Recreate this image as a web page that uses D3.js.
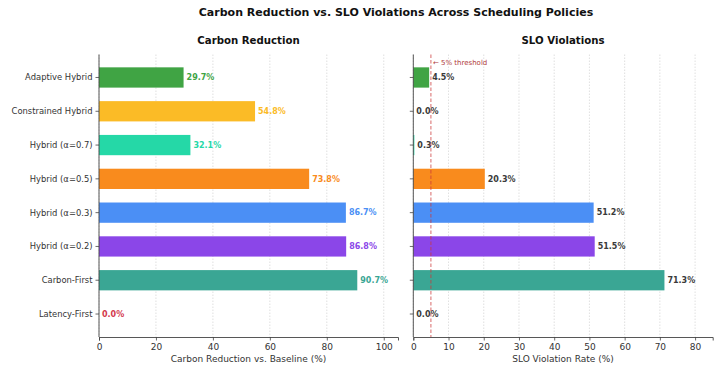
<!DOCTYPE html>
<html>
<head>
<meta charset="utf-8">
<script src="https://cdn.jsdelivr.net/npm/d3@7/dist/d3.min.js"></script>
<style>
  html, body { margin: 0; padding: 0; background: #fff; }
  svg { display: block; font-family: "DejaVu Sans", sans-serif; }
</style>
</head>
<body>
<svg id="chart" width="724" height="371"></svg>
<script>
// Scheduling policies, top to bottom
const policies = [
  "Adaptive Hybrid", "Constrained Hybrid", "Hybrid (α=0.7)", "Hybrid (α=0.5)",
  "Hybrid (α=0.3)", "Hybrid (α=0.2)", "Carbon-First", "Latency-First"
];
const carbonReduction = [29.7, 54.8, 32.1, 73.8, 86.7, 86.8, 90.7, 0.0];
const sloViolations   = [4.5, 0.0, 0.3, 20.3, 51.2, 51.5, 71.3, 0.0];
const policyColors = [
  "#40a444", "#fbbb26", "#25d8a7", "#f98b1d",
  "#4b8ff5", "#8b46e8", "#3aa694", "#d3394d"
];
const carbonTicks = [0, 20, 40, 60, 80, 100];
const sloTicks = [0, 10, 20, 30, 40, 50, 60, 70, 80];
const sloThreshold = 5;

const svg = d3.select("#chart");

svg.append("text")
  .attr("x", 396).attr("y", 16)
  .attr("text-anchor", "middle")
  .attr("font-size", 11).attr("font-weight", "bold").attr("fill", "#111")
  .text("Carbon Reduction vs. SLO Violations Across Scheduling Policies");

const plotTop = 54.5, plotBottom = 337;

// y positions: bars of height 0.6, with matplotlib-like margins
const yIndex = d3.scaleLinear().domain([-0.68, policies.length - 1 + 0.68]).range([plotTop, plotBottom]);
const barH = yIndex(0.3) - yIndex(-0.3);

function panel(opts) {
  const g = svg.append("g");
  const x = d3.scaleLinear().domain(opts.domain).range([opts.x0, opts.x1]);

  // dotted vertical grid
  g.selectAll("line.grid").data(opts.ticks).join("line")
    .attr("class", "grid")
    .attr("x1", d => x(d)).attr("x2", d => x(d))
    .attr("y1", plotTop).attr("y2", plotBottom)
    .attr("stroke", "#d8d8d8").attr("stroke-width", 0.8)
    .attr("stroke-dasharray", "1.5,1.5");

  // bars
  g.selectAll("rect.bar").data(opts.values).join("rect")
    .attr("class", "bar")
    .attr("x", x(0))
    .attr("y", (d, i) => yIndex(i) - barH / 2)
    .attr("width", d => x(d) - x(0))
    .attr("height", barH)
    .attr("fill", (d, i) => policyColors[i]);

  // value labels
  g.selectAll("text.val").data(opts.values).join("text")
    .attr("class", "val")
    .attr("x", d => x(d) + 3)
    .attr("y", (d, i) => yIndex(i))
    .attr("dy", "0.35em")
    .attr("font-size", 8).attr("font-weight", "bold")
    .attr("fill", (d, i) => opts.labelColor ? opts.labelColor : policyColors[i])
    .text(d => d.toFixed(1) + "%");

  // x axis
  const xAxis = g.append("g")
    .attr("transform", `translate(0,${plotBottom})`)
    .call(d3.axisBottom(x).tickValues(opts.ticks).tickSize(3.5).tickPadding(3).tickFormat(d3.format("d")));
  xAxis.select(".domain").attr("stroke", "#444").attr("stroke-width", 0.9);
  xAxis.selectAll(".tick line").attr("stroke", "#444").attr("stroke-width", 0.8);
  xAxis.selectAll(".tick text").attr("font-size", 9).attr("fill", "#333")
    .attr("font-family", "DejaVu Sans, sans-serif");

  // y axis
  const yAxis = g.append("g")
    .attr("transform", `translate(${opts.x0},0)`);
  yAxis.append("line")
    .attr("x1", 0).attr("x2", 0).attr("y1", plotTop).attr("y2", plotBottom)
    .attr("stroke", "#444").attr("stroke-width", 0.9);
  yAxis.selectAll("line.tk").data(policies).join("line")
    .attr("class", "tk")
    .attr("x1", -3.5).attr("x2", 0)
    .attr("y1", (d, i) => yIndex(i)).attr("y2", (d, i) => yIndex(i))
    .attr("stroke", "#444").attr("stroke-width", 0.8);
  if (opts.showCategories) {
    yAxis.selectAll("text.cat").data(policies).join("text")
      .attr("class", "cat")
      .attr("x", -6.5).attr("y", (d, i) => yIndex(i))
      .attr("dy", "0.35em").attr("text-anchor", "end")
      .attr("font-size", 8.4).attr("fill", "#333")
      .text(d => d);
  }

  // titles
  g.append("text")
    .attr("x", (opts.x0 + opts.x1) / 2).attr("y", 43.5)
    .attr("text-anchor", "middle")
    .attr("font-size", 10.2).attr("font-weight", "bold").attr("fill", "#111")
    .text(opts.title);
  g.append("text")
    .attr("x", (opts.x0 + opts.x1) / 2).attr("y", 362)
    .attr("text-anchor", "middle")
    .attr("font-size", 9).attr("fill", "#333")
    .text(opts.xLabel);

  return { g, x };
}

panel({
  x0: 99, x1: 398, domain: [0, 105], ticks: carbonTicks,
  values: carbonReduction, showCategories: true,
  title: "Carbon Reduction", xLabel: "Carbon Reduction vs. Baseline (%)"
});

const slo = panel({
  x0: 413.3, x1: 712.7, domain: [0, 85], ticks: sloTicks,
  values: sloViolations, showCategories: false, labelColor: "#3a3a3a",
  title: "SLO Violations", xLabel: "SLO Violation Rate (%)"
});

// 5% SLO threshold marker
slo.g.append("line")
  .attr("x1", slo.x(sloThreshold)).attr("x2", slo.x(sloThreshold))
  .attr("y1", plotTop).attr("y2", plotBottom)
  .attr("stroke", "#cc3b3b").attr("stroke-width", 0.9)
  .attr("stroke-dasharray", "3.5,2").attr("opacity", 0.85);
slo.g.append("text")
  .attr("x", slo.x(sloThreshold) + 2).attr("y", 64.5)
  .attr("font-size", 7).attr("fill", "#b03a3a")
  .text("← 5% threshold");
</script>
</body>
</html>
